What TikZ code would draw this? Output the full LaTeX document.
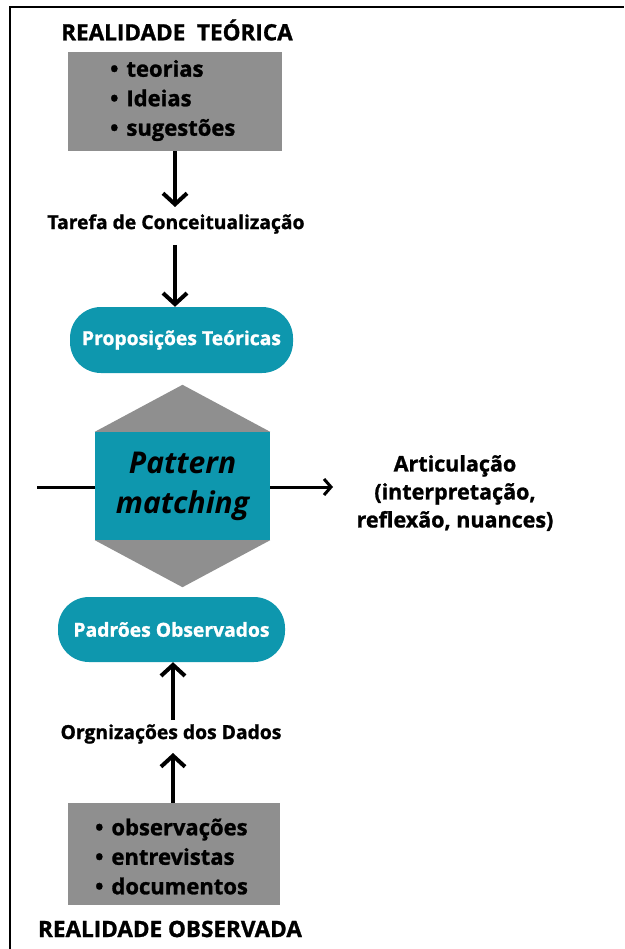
\documentclass[tikz,border=0pt]{standalone}
\usepackage{fontspec}
\setmainfont{Open Sans}[BoldFeatures={FakeBold=1.2}]
\usetikzlibrary{arrows.meta}
\definecolor{boxgray}{HTML}{8F8F8F}
\definecolor{tealc}{HTML}{0E97AE}
\newcommand{\bul}{•\hspace{8pt}}
\begin{document}
\begin{tikzpicture}[x=1pt,y=-1pt,
  title/.style={font=\fontsize{22.5}{26}\selectfont\bfseries, inner sep=0pt},
  graybox/.style={fill=boxgray, inner sep=0pt},
  items/.style={inner sep=0pt, align=left, font=\fontsize{22}{29.5}\selectfont\bfseries},
  lab/.style={font=\fontsize{19.3}{22}\selectfont\bfseries, inner sep=0pt},
  pill/.style={fill=tealc, text=white, rounded corners=31pt, inner sep=0pt, font=\fontsize{19.3}{22}\selectfont\bfseries},
  bigarrow/.style={line width=4pt, -{Straight Barb[length=11pt,width=24pt,line width=4pt]}},
  smallarrow/.style={line width=3pt, -{Straight Barb[length=7pt,width=16pt,line width=3pt]}},
  plainline/.style={line width=3pt}
]
\useasboundingbox (0,0) rectangle (624,949);
\draw[line width=2pt] (10,949) -- (10,7) -- (624,7);

% top
\node[title] (t1) at (177,30) {REALIDADE\ \ TEÓRICA};
\node[graybox, minimum width=214pt, minimum height=99pt] (b1) at (175,101.5) {};
\node[items, anchor=west] (i1) at (110,100.5) {\bul teorias\\ \bul Ideias\\ \bul sugestões};
\node[lab] (l1) at (176,224) {Tarefa de Conceitualização};
\node[pill, minimum width=223pt, minimum height=66pt] (p1) at (181.5,340) {Proposições Teóricas};
\coordinate (a1e) at (b1.south |- 0,207);
\draw[bigarrow] (b1.south) -- (a1e);
\coordinate (a2s) at (b1.south |- 0,245);
\draw[bigarrow] (a2s) -- (a2s |- p1.north);

% pattern matching
\node[fill=tealc, minimum width=175pt, minimum height=108pt, inner sep=0pt,
  align=center, font=\fontsize{30}{40}\selectfont\bfseries\itshape] (pm) at (182.5,486) {Pattern\\matching};
\fill[boxgray] (pm.north west) -- ([yshift=47pt]pm.north) -- (pm.north east) -- cycle;
\fill[boxgray] (pm.south west) -- ([yshift=-47pt]pm.south) -- (pm.south east) -- cycle;
\node[align=center, inner sep=0pt, font=\fontsize{21.5}{28}\selectfont\bfseries] (art) at (455,493)
  {Articulação\\(interpretação,\\reflexão, nuances)};
\coordinate (lin) at (37,487);
\coordinate (lout) at (333,487);
\draw[plainline] (lin) -- (pm.west |- lin);
\draw[smallarrow] (pm.east |- lin) -- (lout);

% bottom
\node[pill, minimum width=227pt, minimum height=65pt] (p2) at (171.5,629.5) {Padrões Observados};
\node[lab] (l2) at (171,734) {Orgnizações dos Dados};
\node[graybox, minimum width=212pt, minimum height=102pt] (b2) at (174,854) {};
\node[items, anchor=west] (i2) at (95,856.5) {\bul observações\\ \bul entrevistas\\ \bul documentos};
\node[title] (t2) at (170,929) {REALIDADE OBSERVADA};
\coordinate (a3s) at (173,720);
\draw[bigarrow] (a3s) -- (a3s |- p2.south);
\coordinate (a4e) at (173,753);
\draw[bigarrow] (a4e |- b2.north) -- (a4e);
\end{tikzpicture}
\end{document}
